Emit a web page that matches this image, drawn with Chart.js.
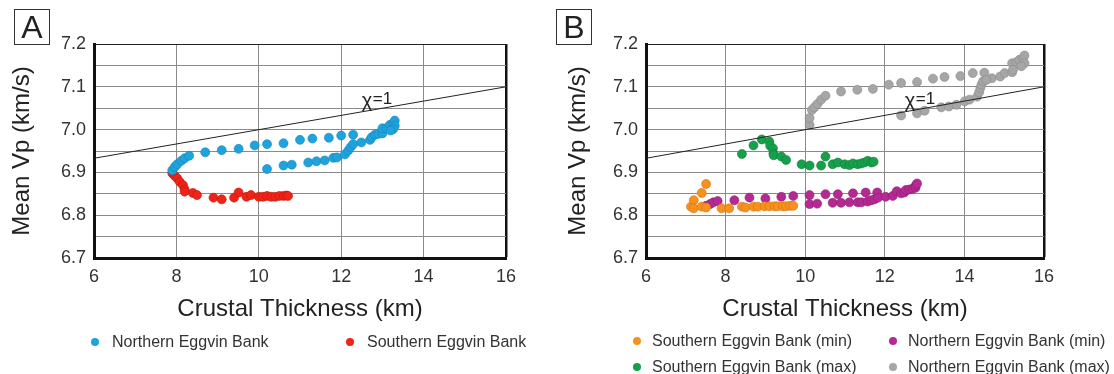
<!DOCTYPE html>
<html>
<head>
<meta charset="utf-8">
<script src="https://cdn.jsdelivr.net/npm/chart.js@4.4.1/dist/chart.umd.min.js"></script>
<style>
    body { margin: 0; background: #fff; font-family: "Liberation Sans", Arial, sans-serif; }
    #wrap { position: relative; width: 1114px; height: 374px; overflow: hidden; }
    .panel { position: absolute; top: 0; }
    .tag { position: absolute; top: 9px; width: 34px; height: 34px; border: 1.5px solid #333;
           font-size: 32px; line-height: 34px; text-align: center; color: #222; }
    .leg { position: absolute; font-size: 16px; color: #333; white-space: nowrap; line-height: 18px; }
    .dot { position: absolute; width: 8px; height: 8px; border-radius: 50%; }
</style>
</head>
<body>
<div id="wrap">
    <div class="panel" style="left:0"><canvas id="chartA" width="556" height="374"></canvas></div>
    <div class="panel" style="left:556px"><canvas id="chartB" width="558" height="374"></canvas></div>
    <div class="tag" style="left:14px">A</div>
    <div class="tag" style="left:556px">B</div>
    <div id="legends"></div>
</div>
<script>
// panel A
var northA_x = [7.90, 7.96, 8.02, 8.12, 8.20, 8.31, 8.70, 9.10, 9.51, 9.90, 10.20, 10.60, 11.00, 11.30, 11.70, 12.00, 12.29,
    10.20, 10.60, 10.80, 11.20, 11.40, 11.60, 11.81, 11.90, 12.09, 12.17, 12.23, 12.29, 12.49, 12.70, 12.74, 12.82, 12.90,
    13.00, 13.00, 13.10, 13.18, 13.26, 13.30, 13.30, 13.26, 13.20];
var northA_y = [6.905, 6.913, 6.919, 6.927, 6.933, 6.939, 6.947, 6.952, 6.955, 6.963, 6.966, 6.968, 6.976, 6.979, 6.981, 6.986, 6.988,
    6.908, 6.916, 6.918, 6.923, 6.926, 6.928, 6.934, 6.935, 6.942, 6.951, 6.959, 6.966, 6.970, 6.976, 6.982, 6.988, 6.990,
    6.991, 7.003, 7.003, 7.011, 7.015, 7.021, 7.009, 7.001, 6.998];
var southA_x = [7.90, 7.96, 8.02, 8.08, 8.16, 8.20, 8.20, 8.40, 8.50, 8.90, 9.10, 9.40, 9.51, 9.70, 9.81, 10.00, 10.10,
    10.20, 10.30, 10.40, 10.50, 10.60, 10.67, 10.71];
var southA_y = [6.898, 6.892, 6.886, 6.878, 6.870, 6.860, 6.855, 6.852, 6.847, 6.841, 6.837, 6.841, 6.853, 6.843, 6.847, 6.843, 6.843,
    6.845, 6.843, 6.843, 6.845, 6.845, 6.846, 6.845];

// panel B
var southMin_x = [7.13, 7.20, 7.20, 7.40, 7.51, 7.40, 7.51, 7.90, 8.09, 8.41, 8.50, 8.70, 8.81, 8.98, 9.10, 9.23, 9.31, 9.44, 9.52, 9.62, 9.70];
var southMin_y = [6.820, 6.835, 6.816, 6.852, 6.873, 6.820, 6.818, 6.816, 6.816, 6.820, 6.818, 6.820, 6.820, 6.821, 6.821, 6.821, 6.821, 6.821, 6.821, 6.822, 6.822];
var northMin_x = [7.51, 7.61, 7.69, 7.80, 8.22, 8.60, 9.00, 9.40, 9.70, 10.11, 10.11, 10.30, 10.51, 10.69, 10.82, 10.90, 11.11, 11.20,
    11.32, 11.41, 11.52, 11.57, 11.66, 11.74, 11.81, 11.83, 12.02, 12.20, 12.30, 12.41, 12.49, 12.53, 12.62, 12.70, 12.77, 12.78, 12.81];
var northMin_y = [6.822, 6.826, 6.830, 6.833, 6.835, 6.841, 6.839, 6.843, 6.845, 6.847, 6.826, 6.827, 6.849, 6.829, 6.849, 6.829, 6.830, 6.851,
    6.830, 6.830, 6.853, 6.832, 6.835, 6.837, 6.853, 6.841, 6.843, 6.845, 6.856, 6.851, 6.853, 6.859, 6.860, 6.862, 6.864, 6.870, 6.874];
var southMax_x = [8.41, 8.70, 8.91, 9.10, 9.12, 9.19, 9.20, 9.21, 9.40, 9.52, 9.91, 10.11, 10.40, 10.51, 10.69, 10.82, 10.99, 11.11,
    11.20, 11.32, 11.41, 11.49, 11.57, 11.66, 11.72];
var southMax_y = [6.943, 6.963, 6.977, 6.972, 6.962, 6.956, 6.944, 6.940, 6.937, 6.929, 6.919, 6.916, 6.916, 6.937, 6.919, 6.923, 6.919, 6.917,
    6.921, 6.919, 6.921, 6.923, 6.927, 6.923, 6.925];
var northMax_x = [10.11, 10.11, 10.17, 10.23, 10.31, 10.40, 10.51, 10.90, 11.31, 11.70, 12.10, 12.41, 12.81, 13.21, 13.50, 13.90, 14.21,
    14.50, 14.69, 14.90, 15.01, 15.20, 15.20, 15.30, 15.38, 15.47, 15.51, 15.51, 15.43, 15.22,
    12.41, 12.81, 13.00, 13.42, 13.61, 13.80, 14.01, 14.13, 14.32, 14.37, 14.40, 14.43, 14.47, 14.55];
var northMax_y = [7.011, 7.027, 7.046, 7.052, 7.060, 7.070, 7.079, 7.089, 7.093, 7.095, 7.105, 7.109, 7.111, 7.119, 7.123, 7.125, 7.132,
    7.133, 7.120, 7.124, 7.132, 7.134, 7.155, 7.157, 7.163, 7.167, 7.173, 7.155, 7.148, 7.140,
    7.033, 7.038, 7.044, 7.052, 7.054, 7.058, 7.066, 7.070, 7.077, 7.087, 7.097, 7.105, 7.113, 7.116];

// chi = 1 reference line
var chi_x = [6, 16];
var chi_y = [6.933, 7.1];

var xTicks = [6, 8, 10, 12, 14, 16];

function pts(xs, ys) {
    return xs.map(function(x, i) { return { x: x, y: ys[i] }; });
}

function dots(label, xs, ys, color, edge) {
    return {
        type: 'scatter', label: label, data: pts(xs, ys),
        backgroundColor: color, borderColor: edge, borderWidth: 0.6,
        pointRadius: 4.5, pointHoverRadius: 4.5
    };
}

var chiLabel = {
    id: 'chiLabel',
    afterDatasetsDraw: function(chart) {
        var ctx = chart.ctx;
        var x = chart.scales.x.getPixelForValue(12.5);
        var y = chart.scales.y.getPixelForValue(7.052);
        ctx.save();
        ctx.fillStyle = '#222';
        ctx.font = '20px "Liberation Sans", Arial';
        ctx.textBaseline = 'alphabetic';
        ctx.fillText('\u03c7', x, y);
        ctx.font = '17px "Liberation Sans", Arial';
        ctx.fillText('=1', x + 11, y - 3);
        ctx.restore();
    }
};

function makeChart(id, datasets, yWidth, rightPad) {
    var chiSet = {
        type: 'line', label: 'chi', data: pts(chi_x, chi_y),
        borderColor: '#222', borderWidth: 1, pointRadius: 0, fill: false
    };
    return new Chart(document.getElementById(id), {
        type: 'scatter',
        data: { datasets: [chiSet].concat(datasets) },
        plugins: [chiLabel],
        options: {
            responsive: false,
            animation: false,
            layout: { padding: { top: 44, right: rightPad, bottom: 50, left: 0 } },
            plugins: { legend: { display: false }, tooltip: { enabled: false } },
            scales: {
                x: {
                    type: 'linear', min: 6, max: 16,
                    afterBuildTicks: function(scale) {
                        scale.ticks = xTicks.map(function(v) { return { value: v }; });
                    },
                    afterFit: function(scale) { scale.height = 66; },
                    ticks: { color: '#333', font: { size: 18, family: '"Liberation Sans", Arial' }, padding: 8, maxRotation: 0, autoSkip: false },
                    grid: {
                        drawTicks: false,
                        color: function(c) { return c.tick && c.tick.value === 16 ? '#111' : '#8a8a8a'; },
                        lineWidth: function(c) { return c.tick && c.tick.value === 16 ? 2.5 : 1; }
                    },
                    border: { color: '#111', width: 3 },
                    title: {
                        display: true, text: 'Crustal Thickness (km)', color: '#222',
                        font: { size: 24, family: '"Liberation Sans", Arial' }, padding: { top: 0, bottom: 0 }
                    }
                },
                y: {
                    type: 'linear', min: 6.7, max: 7.2,
                    afterFit: function(scale) { scale.width = yWidth; },
                    ticks: {
                        stepSize: 0.05, color: '#333', padding: 8, autoSkip: false,
                        font: { size: 18, family: '"Liberation Sans", Arial' },
                        callback: function(v, i) { return i % 2 === 0 ? Number(v).toFixed(1) : ''; }
                    },
                    grid: {
                        drawTicks: false,
                        color: function(c) { return c.tick && Math.abs(c.tick.value - 7.2) < 1e-6 ? '#222' : '#8a8a8a'; }
                    },
                    border: { color: '#111', width: 3 },
                    title: {
                        display: true, text: 'Mean Vp (km/s)', color: '#222',
                        font: { size: 24, family: '"Liberation Sans", Arial' }, padding: { top: 8, bottom: 0 }
                    }
                }
            }
        }
    });
}

makeChart('chartA', [
    dots('Northern Eggvin Bank', northA_x, northA_y, '#1ea3dd', '#1585b8'),
    dots('Southern Eggvin Bank', southA_x, southA_y, '#ee2418', '#c01810')
], 94, 50);

makeChart('chartB', [
    dots('Southern Eggvin Bank (min)', southMin_x, southMin_y, '#f7911e', '#d0740f'),
    dots('Northern Eggvin Bank (min)', northMin_x, northMin_y, '#b52a92', '#8d1e72'),
    dots('Southern Eggvin Bank (max)', southMax_x, southMax_y, '#17a04b', '#0f7d38'),
    dots('Northern Eggvin Bank (max)', northMax_x, northMax_y, '#a6a6a6', '#8a8a8a')
], 90, 70);

// legends
var legendItems = [
    { text: 'Northern Eggvin Bank', color: '#1ea3dd', x: 95, y: 342 },
    { text: 'Southern Eggvin Bank', color: '#ee2418', x: 350, y: 342 },
    { text: 'Southern Eggvin Bank (min)', color: '#f7911e', x: 637, y: 341 },
    { text: 'Northern Eggvin Bank (min)', color: '#b52a92', x: 893, y: 341 },
    { text: 'Southern Eggvin Bank (max)', color: '#17a04b', x: 637, y: 367 },
    { text: 'Northern Eggvin Bank (max)', color: '#a6a6a6', x: 893, y: 367 }
];
var legHost = document.getElementById('legends');
legendItems.forEach(function(it) {
    var d = document.createElement('div');
    d.className = 'dot';
    d.style.left = (it.x - 4) + 'px';
    d.style.top = (it.y - 4) + 'px';
    d.style.background = it.color;
    legHost.appendChild(d);
    var t = document.createElement('div');
    t.className = 'leg';
    t.textContent = it.text;
    t.style.left = (it.x + (it.x < 600 ? 17 : 15)) + 'px';
    t.style.top = (it.y - 9) + 'px';
    legHost.appendChild(t);
});
</script>
</body>
</html>
